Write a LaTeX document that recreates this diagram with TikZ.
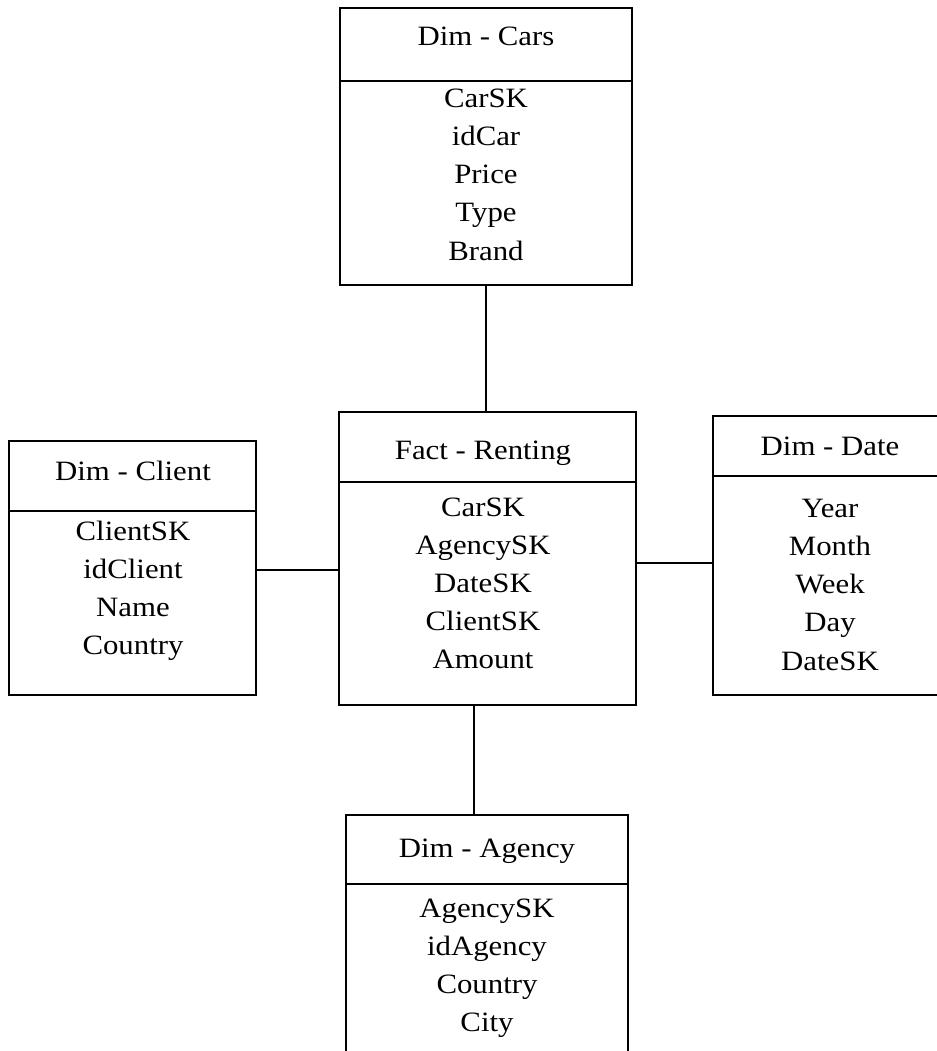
\documentclass[tikz,border=0pt]{standalone}
\usepackage{fontspec}
\setmainfont{Liberation Serif}[FakeStretch=1.1]
\usetikzlibrary{fit}
\begin{document}
\begin{tikzpicture}[x=0.75pt,y=-0.75pt,
  tbl/.style={draw,line width=1.5pt,rectangle,inner sep=0pt},
  lbl/.style={anchor=base,inner sep=0pt,font=\fontsize{21}{25}\selectfont},
  link/.style={line width=1.5pt}]
\useasboundingbox (0,0) rectangle (937,1051);
\clip (0,0) rectangle (937,1051);

% table frames (corner to corner)
\node[tbl,fit={(340,8) (632,285)}] (cars) {};
\node[tbl,fit={(339,412) (636,705)}] (fact) {};
\node[tbl,fit={(9,441) (256,695)}] (client) {};
\node[tbl,fit={(713,416) (960,695)}] (date) {};
\node[tbl,fit={(346,815) (628,1080)}] (agency) {};

% header dividers
\draw[link] (cars.west |- 0,81) -- (cars.east |- 0,81);
\draw[link] (fact.west |- 0,482) -- (fact.east |- 0,482);
\draw[link] (client.west |- 0,511) -- (client.east |- 0,511);
\draw[link] (date.west |- 0,476) -- (date.east |- 0,476);
\draw[link] (agency.west |- 0,884) -- (agency.east |- 0,884);

% titles
\node[lbl] (cars-t) at (486,45) {Dim - Cars};
\node[lbl] (fact-t) at (483,459) {Fact - Renting};
\node[lbl] (client-t) at (133,480) {Dim - Client};
\node[lbl] (date-t) at (830,455) {Dim - Date};
\node[lbl] (agency-t) at (487,857) {Dim - Agency};

% attributes
\foreach \t [count=\i] in {CarSK,idCar,Price,Type,Brand}
  \node[lbl] (cars-\i) at (486,107+38.3*\i-38.3) {\t};
\foreach \t [count=\i] in {CarSK,AgencySK,DateSK,ClientSK,Amount}
  \node[lbl] (fact-\i) at (483,516+38*\i-38) {\t};
\foreach \t [count=\i] in {ClientSK,idClient,Name,Country}
  \node[lbl] (client-\i) at (133,540+38.3*\i-38.3) {\t};
\foreach \t [count=\i] in {Year,Month,Week,Day,DateSK}
  \node[lbl] (date-\i) at (830,517+38.3*\i-38.3) {\t};
\foreach \t [count=\i] in {AgencySK,idAgency,Country,City}
  \node[lbl] (agency-\i) at (487,917+38.3*\i-38.3) {\t};

% connectors
\draw[link] (cars.south) -- (cars.south |- fact.north);
\draw[link] ([yshift=-1.5pt]client.east) -- ([yshift=-1.5pt]client.east -| fact.west);
\draw[link] ([yshift=-5.6pt]date.west) -- ([yshift=-5.6pt]date.west -| fact.east);
\draw[link] ([xshift=-10pt]fact.south) -- ([xshift=-10pt]fact.south |- agency.north);
\end{tikzpicture}
\end{document}
